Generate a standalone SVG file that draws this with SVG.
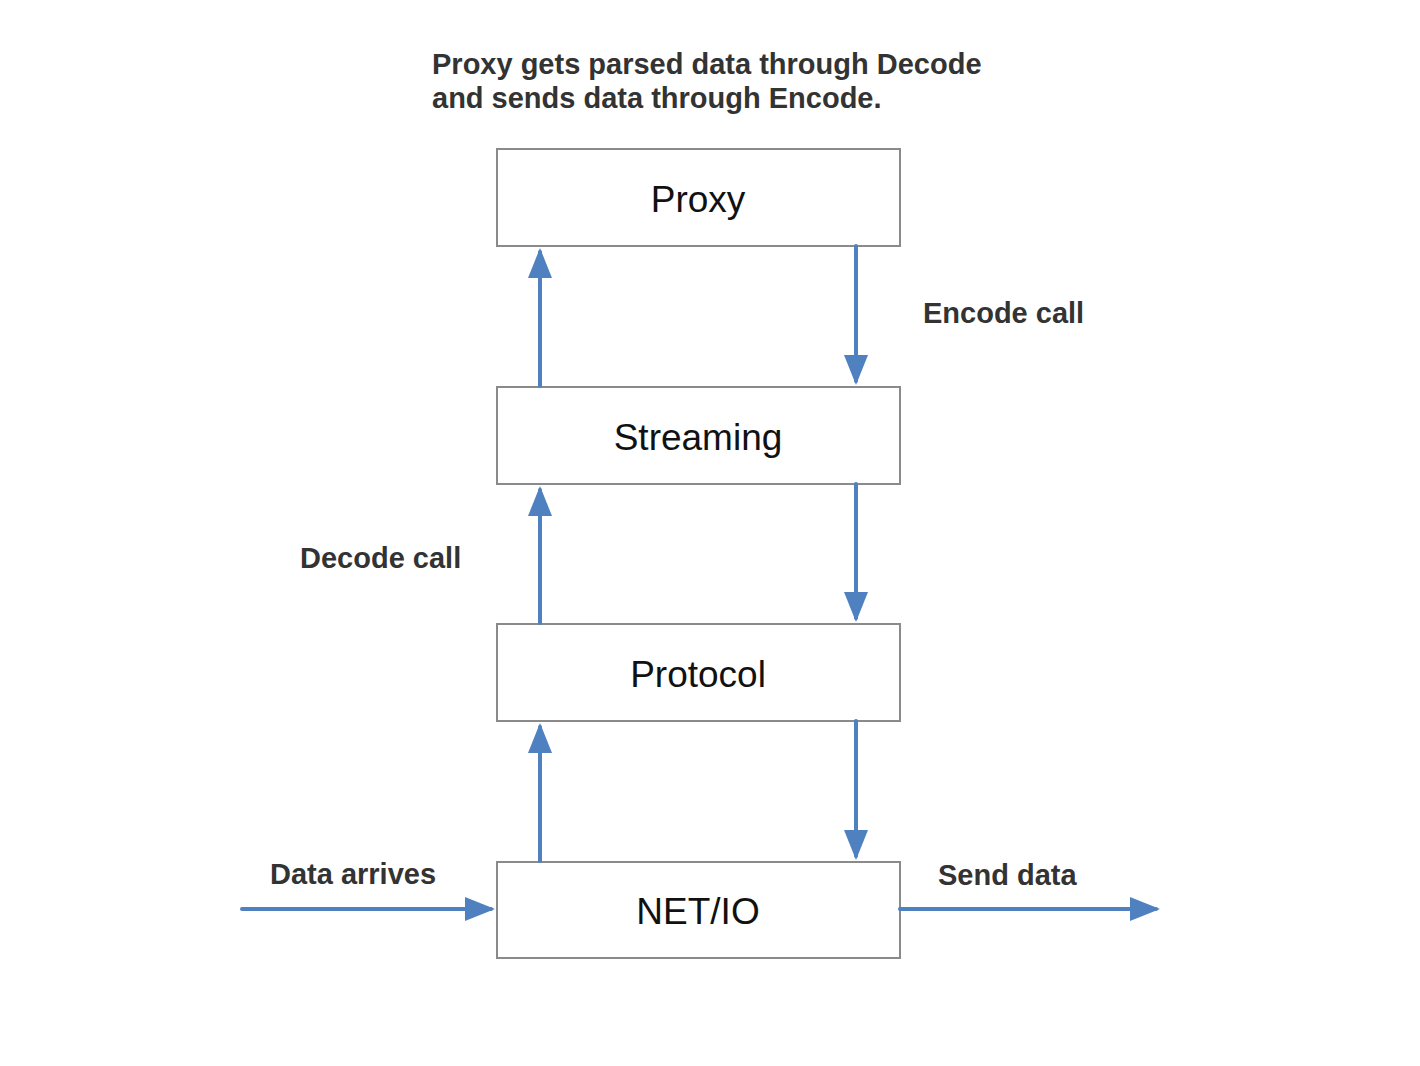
<svg xmlns="http://www.w3.org/2000/svg" width="1420" height="1066" viewBox="0 0 1420 1066">
<defs>
<style>
.box{fill:#fff;stroke:#8a8a8a;stroke-width:2}
.nt{font-family:"Liberation Sans",Arial,sans-serif;font-size:37px;fill:#111;text-anchor:middle}
.lb{font-family:"Liberation Sans",Arial,sans-serif;font-size:29px;font-weight:bold;fill:#333}
.ar{stroke:#4f81c0;stroke-width:4;fill:none;stroke-linecap:round}
</style>
<marker id="ah" viewBox="0 0 30 24" refX="26" refY="12" markerWidth="30" markerHeight="24" markerUnits="userSpaceOnUse" orient="auto">
<path d="M0,0 L30,12 L0,24 Z" fill="#4f81c0"/>
</marker>
</defs>
<rect width="1420" height="1066" fill="#fff"/>
<text class="lb" x="432" y="74">Proxy gets parsed data through Decode</text>
<text class="lb" x="432" y="108">and sends data through Encode.</text>
<g id="proxy"><rect class="box" x="497" y="149" width="403" height="97"/><text class="nt" x="698" y="212">Proxy</text></g>
<g id="streaming"><rect class="box" x="497" y="387" width="403" height="97"/><text class="nt" x="698" y="450">Streaming</text></g>
<g id="protocol"><rect class="box" x="497" y="624" width="403" height="97"/><text class="nt" x="698" y="687">Protocol</text></g>
<g id="netio"><rect class="box" x="497" y="862" width="403" height="96"/><text class="nt" x="698" y="924">NET/IO</text></g>
<g id="connectors">
<line class="ar" x1="540" y1="386" x2="540" y2="252" marker-end="url(#ah)"/>
<line class="ar" x1="540" y1="623" x2="540" y2="490" marker-end="url(#ah)"/>
<line class="ar" x1="540" y1="861" x2="540" y2="727" marker-end="url(#ah)"/>
<line class="ar" x1="856" y1="246" x2="856" y2="381" marker-end="url(#ah)"/>
<line class="ar" x1="856" y1="484" x2="856" y2="618" marker-end="url(#ah)"/>
<line class="ar" x1="856" y1="721" x2="856" y2="856" marker-end="url(#ah)"/>
<line class="ar" x1="242" y1="909" x2="491" y2="909" marker-end="url(#ah)"/>
<line class="ar" x1="900" y1="909" x2="1156" y2="909" marker-end="url(#ah)"/>
</g>
<text class="lb" x="923" y="323">Encode call</text>
<text class="lb" x="300" y="568">Decode call</text>
<text class="lb" x="270" y="884">Data arrives</text>
<text class="lb" x="938" y="885">Send data</text>
</svg>
